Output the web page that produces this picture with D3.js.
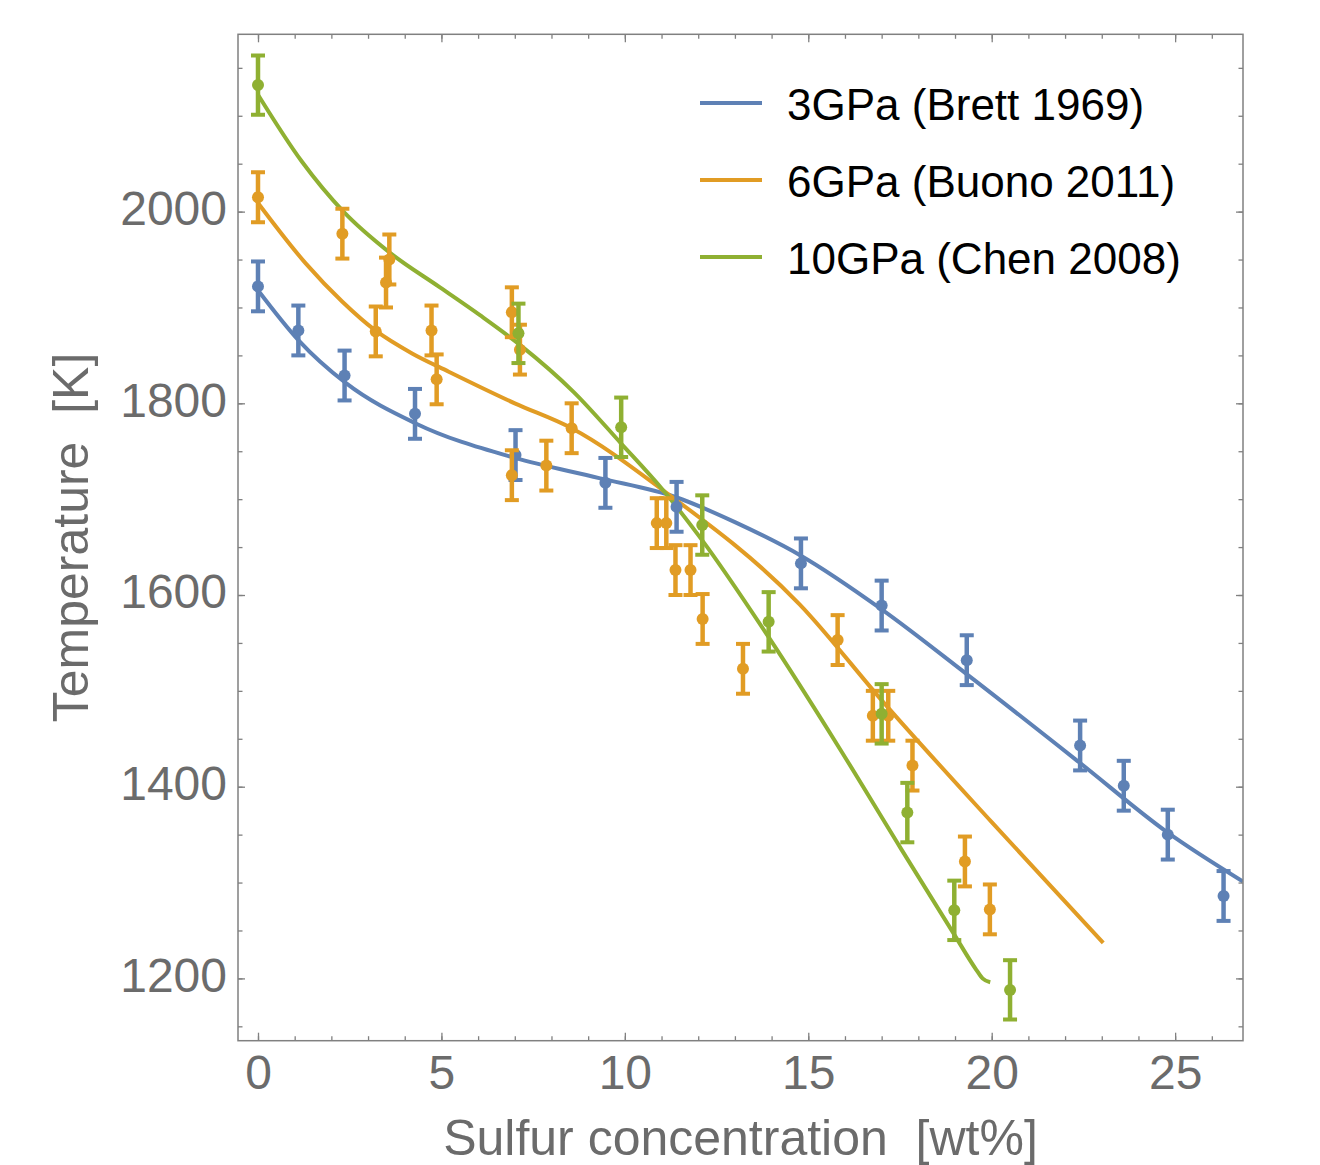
<!DOCTYPE html>
<html lang="en">
<head>
<meta charset="UTF-8">
<title>Fe-FeS liquidus</title>
<script src="https://cdn.jsdelivr.net/npm/d3@7"></script>
<style>
	body { margin: 0; background: #fff; }
	text { font-family: "Liberation Sans", Arial, Helvetica, sans-serif; }
</style>
</head>
<body>
<script>
// series labels and colours
var seriesNames = ['3GPa (Brett 1969)', '6GPa (Buono 2011)', '10GPa (Chen 2008)'];
var seriesColors = ['#5E81B5', '#E19C24', '#8FB032'];

// measured points [wt% S, T (K)]
var brettPts = [[0, 1922], [1.1, 1876], [2.36, 1829], [4.28, 1789], [7.02, 1746], [9.47, 1717], [11.41, 1692],
	[14.8, 1633], [17.0, 1589], [19.32, 1532], [22.41, 1443], [23.6, 1401], [24.8, 1350], [26.32, 1286]];
var buonoPts = [[0, 2015], [2.3, 1977], [3.58, 1950], [3.49, 1926], [3.21, 1875], [4.73, 1876], [4.87, 1825],
	[6.92, 1895], [7.14, 1856], [6.92, 1725], [7.86, 1735], [8.55, 1774], [10.87, 1675], [11.13, 1675],
	[11.38, 1626], [11.79, 1626], [12.12, 1575], [13.22, 1523], [15.8, 1553], [16.76, 1474], [17.18, 1474],
	[17.84, 1422], [19.27, 1322], [19.95, 1272]];
var chenPts = [[0, 2132], [7.1, 1873], [9.9, 1775], [12.11, 1673], [13.92, 1572], [17.0, 1476], [17.7, 1373],
	[18.98, 1271], [20.5, 1188]];

// error bar half widths (K)
var seriesErr = [26, 26, 31];

// fitted liquidus curves
var brettCurve = [[0, 1918], [1.1, 1866], [2.4, 1821], [4.3, 1779], [7, 1743], [9.3, 1722], [11.4, 1702],
	[13, 1676], [14.8, 1641], [17, 1585], [19.3, 1518], [22.4, 1425], [24.8, 1352], [26.85, 1301]];
var buonoCurve = [[0, 2009], [1.3, 1946], [2.3, 1906], [3.2, 1876], [4.2, 1852], [5.2, 1833], [7, 1800],
	[8.55, 1774], [11.05, 1709], [14.77, 1590], [17.05, 1488], [20, 1363], [23.04, 1237]];
var chenCurve = [[0, 2122], [1.2, 2052], [2.33, 2000], [3.6, 1957], [4.96, 1921], [6.05, 1892], [7.14, 1861],
	[8.6, 1812], [9.9, 1758], [11.05, 1709], [12.11, 1657], [13.92, 1556], [15.82, 1442], [17.5, 1337],
	[18.96, 1247], [19.58, 1209], [19.75, 1200], [19.96, 1196]];

// ticks
var xMajor = [0, 5, 10, 15, 20, 25];
var xMinor = d3.range(0, 27, 1);
var yMajor = [1200, 1400, 1600, 1800, 2000];
var yMinor = d3.range(1150, 2200, 50);

var width = 1320,
	height = 1165;
var padding = { top: 34.3, bottom: 124.3, left: 238, right: 77 };

var svg = d3.select('body').append('svg')
	.attr('width', width)
	.attr('height', height);

var xScale = d3.scaleLinear()
	.domain([-0.545, 26.85])
	.range([padding.left, width - padding.right]);
var yScale = d3.scaleLinear()
	.domain([1135, 2185])
	.range([height - padding.bottom, padding.top]);

var pts = [brettPts, buonoPts, chenPts];
var curves = [brettCurve, buonoCurve, chenCurve];

svg.append('clipPath').attr('id', 'plot-clip')
	.append('rect')
	.attr('x', padding.left)
	.attr('y', padding.top)
	.attr('width', width - padding.left - padding.right)
	.attr('height', height - padding.top - padding.bottom);

function drawAxes() {
	var bottomY = height - padding.bottom,
		rightX = width - padding.right;
	var noLabel = () => '';

	var specs = [
		[d3.axisBottom(xScale).tickValues(xMinor).tickSize(-4.5).tickFormat(noLabel), `translate(0,${bottomY})`],
		[d3.axisBottom(xScale).tickValues(xMajor).tickSize(-8).tickPadding(14).tickFormat(d3.format('d')), `translate(0,${bottomY})`, 'xlab'],
		[d3.axisTop(xScale).tickValues(xMinor).tickSize(-4.5).tickFormat(noLabel), `translate(0,${padding.top})`],
		[d3.axisTop(xScale).tickValues(xMajor).tickSize(-8).tickFormat(noLabel), `translate(0,${padding.top})`],
		[d3.axisLeft(yScale).tickValues(yMinor).tickSize(-4.5).tickFormat(noLabel), `translate(${padding.left},0)`],
		[d3.axisLeft(yScale).tickValues(yMajor).tickSize(-7).tickPadding(11).tickFormat(d3.format('d')), `translate(${padding.left},0)`, 'ylab'],
		[d3.axisRight(yScale).tickValues(yMinor).tickSize(-4.5).tickFormat(noLabel), `translate(${rightX},0)`],
		[d3.axisRight(yScale).tickValues(yMajor).tickSize(-7).tickFormat(noLabel), `translate(${rightX},0)`]
	];

	specs.forEach(function (s) {
		var g = svg.append('g')
			.attr('transform', s[1])
			.call(s[0]);
		g.select('.domain').remove();
		g.selectAll('.tick line').attr('stroke', '#808080').attr('stroke-width', 1.3);
		g.selectAll('.tick text')
			.attr('fill', '#6b6b6b')
			.style('font-size', '48px')
			.style('font-family', '"Liberation Sans", Arial, sans-serif');
		if (s[2] === 'ylab') g.selectAll('.tick text').attr('dy', '0.27em');
	});

	// frame
	svg.append('rect')
		.attr('x', padding.left)
		.attr('y', padding.top)
		.attr('width', rightX - padding.left)
		.attr('height', bottomY - padding.top)
		.attr('fill', 'none')
		.attr('stroke', '#808080')
		.attr('stroke-width', 1.5);

	svg.append('text')
		.attr('x', (padding.left + rightX) / 2)
		.attr('y', 1155)
		.attr('text-anchor', 'middle')
		.attr('fill', '#6b6b6b')
		.style('font-size', '50px')
		.style('white-space', 'pre')
		.text('Sulfur concentration  [wt%]');

	svg.append('text')
		.attr('transform', 'translate(88,' + (padding.top + bottomY) / 2 + ') rotate(-90)')
		.attr('text-anchor', 'middle')
		.attr('fill', '#6b6b6b')
		.style('font-size', '50px')
		.style('white-space', 'pre')
		.text('Temperature  [K]');
}

function drawSeries() {
	var line = d3.line()
		.x(d => xScale(d[0]))
		.y(d => yScale(d[1]))
		.curve(d3.curveMonotoneX);

	var plot = svg.append('g').attr('clip-path', 'url(#plot-clip)');

	curves.forEach(function (c, i) {
		plot.append('path')
			.datum(c)
			.attr('d', line)
			.attr('fill', 'none')
			.attr('stroke', seriesColors[i])
			.attr('stroke-width', 4);
	});

	pts.forEach(function (p, i) {
		var err = seriesErr[i];
		var g = plot.append('g')
			.attr('stroke', seriesColors[i])
			.attr('fill', seriesColors[i]);

		var bars = g.selectAll('g.bar')
			.data(p)
			.enter()
			.append('g')
			.attr('class', 'bar');

		bars.append('line')
			.attr('x1', d => xScale(d[0]))
			.attr('x2', d => xScale(d[0]))
			.attr('y1', d => yScale(d[1] - err))
			.attr('y2', d => yScale(d[1] + err))
			.attr('stroke-width', 4.5);

		[-1, 1].forEach(function (s) {
			bars.append('line')
				.attr('x1', d => xScale(d[0]) - 7)
				.attr('x2', d => xScale(d[0]) + 7)
				.attr('y1', d => yScale(d[1] + s * err))
				.attr('y2', d => yScale(d[1] + s * err))
				.attr('stroke-width', 4);
		});

		bars.append('circle')
			.attr('cx', d => xScale(d[0]))
			.attr('cy', d => yScale(d[1]))
			.attr('r', 6)
			.attr('stroke', 'none');
	});
}

function drawLegend() {
	var legend = svg.append('g').attr('transform', 'translate(700,103)');
	var rows = legend.selectAll('g')
		.data(seriesNames)
		.enter()
		.append('g')
		.attr('transform', (d, i) => `translate(0,${i * 77})`);

	rows.append('line')
		.attr('x1', 0)
		.attr('x2', 62)
		.attr('stroke', (d, i) => seriesColors[i])
		.attr('stroke-width', 4);

	rows.append('text')
		.attr('x', 87)
		.attr('y', 17)
		.attr('fill', '#000')
		.style('font-size', '44px')
		.text(d => d);
}

drawSeries();
drawAxes();
drawLegend();
</script>
</body>
</html>
